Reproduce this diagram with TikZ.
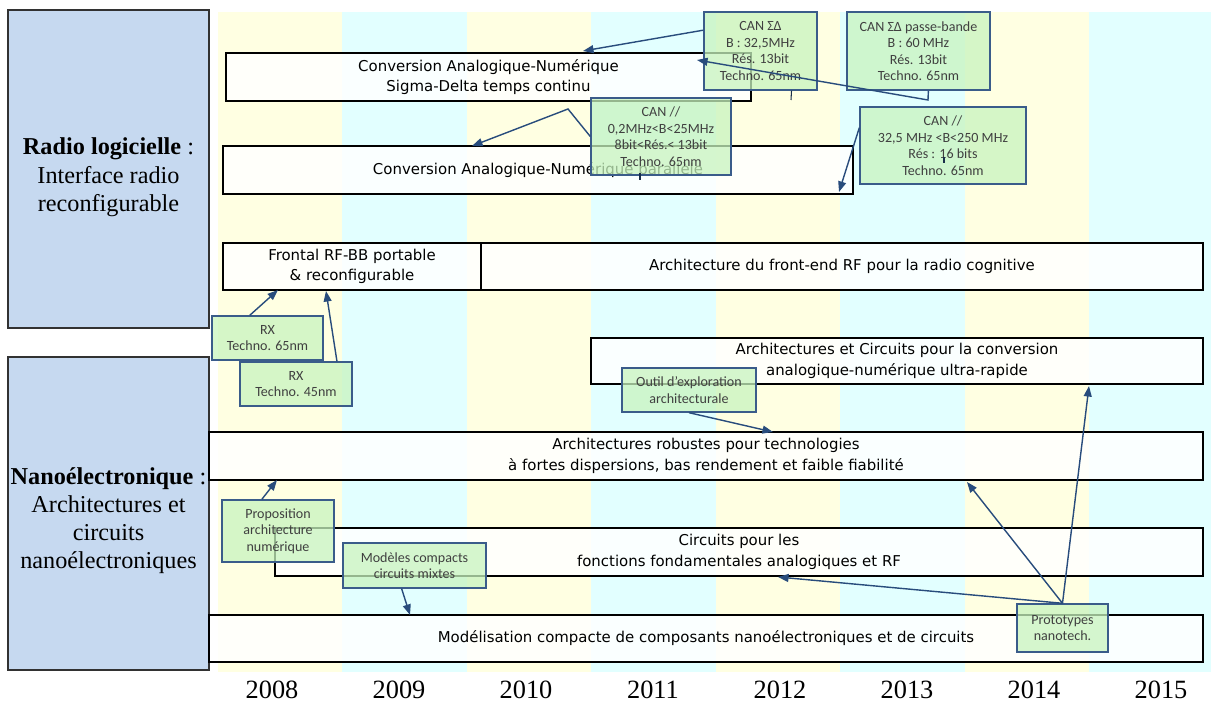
\documentclass[tikz,border=0pt]{standalone}
\usepackage{fontspec}
\setmainfont{Liberation Serif}
\newfontfamily\barfont{DejaVu Sans}
\newfontfamily\notefont{Carlito}
\usepackage{tikz}
\usetikzlibrary{arrows.meta}
\definecolor{bandyellow}{RGB}{255,255,226}
\definecolor{bandcyan}{RGB}{226,255,255}
\definecolor{themefill}{RGB}{198,217,240}
\definecolor{themedraw}{RGB}{50,50,50}
\definecolor{notefill}{RGB}{200,244,190}
\definecolor{notedraw}{RGB}{58,92,138}
\definecolor{linkblue}{RGB}{40,76,124}
\pgfdeclarelayer{bandlayer}
\pgfdeclarelayer{edgelayer}
\pgfsetlayers{bandlayer,main,edgelayer}
\tikzstyle{none}=[inner sep=0pt]
\tikzstyle{theme}=[draw=themedraw, fill=themefill, line width=0.9pt, inner sep=0pt, align=center, font=\fontsize{13.8}{16}\selectfont]
\tikzstyle{bar}=[draw=black, fill=white, fill opacity=0.85, text opacity=1, line width=0.85pt, inner sep=0pt, align=center, font=\barfont\fontsize{8.5}{11.8}\selectfont]
\tikzstyle{note}=[draw=notedraw, fill=notefill, fill opacity=0.75, draw opacity=1, text opacity=1, line width=0.8pt, inner sep=0pt, align=center, text=black!75, font=\notefont\fontsize{8}{9.4}\selectfont]
\tikzstyle{link}=[draw=linkblue, line width=0.8pt, -{Triangle[length=6pt,width=4.5pt]}]
\tikzstyle{tick}=[draw=linkblue!60!black, line width=0.6pt]
\tikzstyle{year}=[inner sep=0pt, font=\fontsize{15}{18}\selectfont]

\begin{document}
\begin{tikzpicture}[x=0.02cm, y=-0.02cm]
	\useasboundingbox (0,0) rectangle (1211,702);
	\begin{pgfonlayer}{bandlayer}
		\fill [bandyellow] (218,12) rectangle (342,672);
		\fill [bandcyan] (342,12) rectangle (467,672);
		\fill [bandyellow] (467,12) rectangle (591,672);
		\fill [bandcyan] (591,12) rectangle (716,672);
		\fill [bandyellow] (716,12) rectangle (840,672);
		\fill [bandcyan] (840,12) rectangle (965,672);
		\fill [bandyellow] (965,12) rectangle (1089,672);
		\fill [bandcyan] (1089,12) rectangle (1211,672);
	\end{pgfonlayer}
	\node [style=theme, minimum width=4.02cm, minimum height=6.36cm] (0) at (108.5,169) {\rule{0pt}{19pt}\textbf{Radio logicielle} :\\Interface radio\\reconfigurable};
	\node [style=theme, minimum width=4.02cm, minimum height=6.26cm] (1) at (108.5,513.5) {\rule{0pt}{18pt}\textbf{Nanoélectronique} :\\Architectures et\\circuits\\nanoélectroniques};
	\node [style=bar, minimum width=10.5cm, minimum height=0.96cm] (2) at (488.5,77) {Conversion Analogique-Numérique\\Sigma-Delta temps continu};
	\node [style=bar, minimum width=12.6cm, minimum height=0.96cm] (3) at (538,170) {Conversion Analogique-Numérique parallèle};
	\node [style=bar, minimum width=5.16cm, minimum height=0.94cm] (4) at (352,266.5) {Frontal RF-BB portable\\\& reconfigurable};
	\node [style=bar, minimum width=14.44cm, minimum height=0.94cm] (5) at (842,266.5) {Architecture du front-end RF pour la radio cognitive};
	\node [style=bar, minimum width=12.24cm, minimum height=0.92cm] (6) at (897,361) {Architectures et Circuits pour la conversion\\analogique-numérique ultra-rapide};
	\node [style=bar, minimum width=19.88cm, minimum height=0.96cm] (7) at (706,456) {Architectures robustes pour technologies\\à fortes dispersions, bas rendement et faible fiabilité};
	\node [style=bar, minimum width=18.56cm, minimum height=0.96cm] (8) at (739,552) {Circuits pour les\\fonctions fondamentales analogiques et RF};
	\node [style=bar, minimum width=19.88cm, minimum height=0.94cm] (9) at (706,638.5) {Modélisation compacte de composants nanoélectroniques et de circuits};
	\node [style=note, minimum width=2.26cm, minimum height=1.56cm] (10) at (760.5,51) {CAN ΣΔ\\B : 32,5MHz\\Rés. 13bit\\Techno. 65nm};
	\node [style=note, minimum width=2.86cm, minimum height=1.56cm] (11) at (918.5,51) {CAN ΣΔ passe-bande\\B : 60 MHz\\Rés. 13bit\\Techno. 65nm};
	\node [style=note, minimum width=2.8cm, minimum height=1.54cm] (12) at (661,136.5) {CAN //\\0,2MHz<B<25MHz\\8bit<Rés.< 13bit\\Techno. 65nm};
	\node [style=note, minimum width=3.32cm, minimum height=1.54cm] (13) at (943,145.5) {CAN //\\32,5 MHz <B<250 MHz\\Rés : 16 bits\\Techno. 65nm};
	\node [style=note, minimum width=2.22cm, minimum height=0.88cm] (14) at (267.5,338) {RX\\Techno. 65nm};
	\node [style=note, minimum width=2.24cm, minimum height=0.88cm] (15) at (296,384) {RX\\Techno. 45nm};
	\node [style=note, minimum width=2.68cm, minimum height=0.88cm] (16) at (689,390) {Outil d’exploration\\architecturale};
	\node [style=note, minimum width=2.24cm, minimum height=1.24cm] (17) at (278,531) {Proposition\\architecture\\numérique};
	\node [style=note, minimum width=2.86cm, minimum height=0.9cm] (18) at (414.5,565.5) {Modèles compacts\\circuits mixtes};
	\node [style=note, minimum width=1.82cm, minimum height=0.96cm] (19) at (1062.5,628) {Prototypes\\nanotech.};
	\node [style=year] (20) at (272,690) {2008};
	\node [style=year] (21) at (399,690) {2009};
	\node [style=year] (22) at (526,690) {2010};
	\node [style=year] (23) at (653,690) {2011};
	\node [style=year] (24) at (780,690) {2012};
	\node [style=year] (25) at (907,690) {2013};
	\node [style=year] (26) at (1034,690) {2014};
	\node [style=year] (27) at (1161,690) {2015};
	\node [style=none] (30) at (583,51) {};
	\node [style=none] (31) at (928,100) {};
	\node [style=none] (32) at (697,60) {};
	\node [style=none] (33) at (791,100) {};
	\node [style=none] (34) at (640,173) {};
	\node [style=none] (35) at (640,180) {};
	\node [style=none] (36) at (944,157) {};
	\node [style=none] (37) at (944,163) {};
	\node [style=none] (38) at (568,109) {};
	\node [style=none] (39) at (472,146) {};
	\node [style=none] (40) at (839,192) {};
	\node [style=none] (41) at (278,290) {};
	\node [style=none] (42) at (326,291) {};
	\node [style=none] (43) at (773,432) {};
	\node [style=none] (44) at (277,480) {};
	\node [style=none] (45) at (410,615) {};
	\node [style=none] (46) at (967,482) {};
	\node [style=none] (47) at (1089,386) {};
	\node [style=none] (48) at (778,577) {};
	\begin{pgfonlayer}{edgelayer}
		\draw [style=link] (10.160) to (30.center);
		\draw [style=link] (11.284) to (31.center) to (32.center);
		\draw [style=tick] (10.308) to (33.center);
		\draw [style=tick] (34.center) to (35.center);
		\draw [style=tick] (36.center) to (37.center);
		\draw [style=link] (12.west) to (38.center) to (39.center);
		\draw [style=link] (13.168) to (40.center);
		\draw [style=link] (14.128) to (41.center);
		\draw [style=link] (15.29) to (42.center);
		\draw [style=link] (16.south) to (43.center);
		\draw [style=link] (17.117) to (44.center);
		\draw [style=link] (18.241) to (45.center);
		\draw [style=link] (19.north) to (46.center);
		\draw [style=link] (19.north) to (47.center);
		\draw [style=link] (19.north) to (48.center);
	\end{pgfonlayer}
\end{tikzpicture}
\end{document}
